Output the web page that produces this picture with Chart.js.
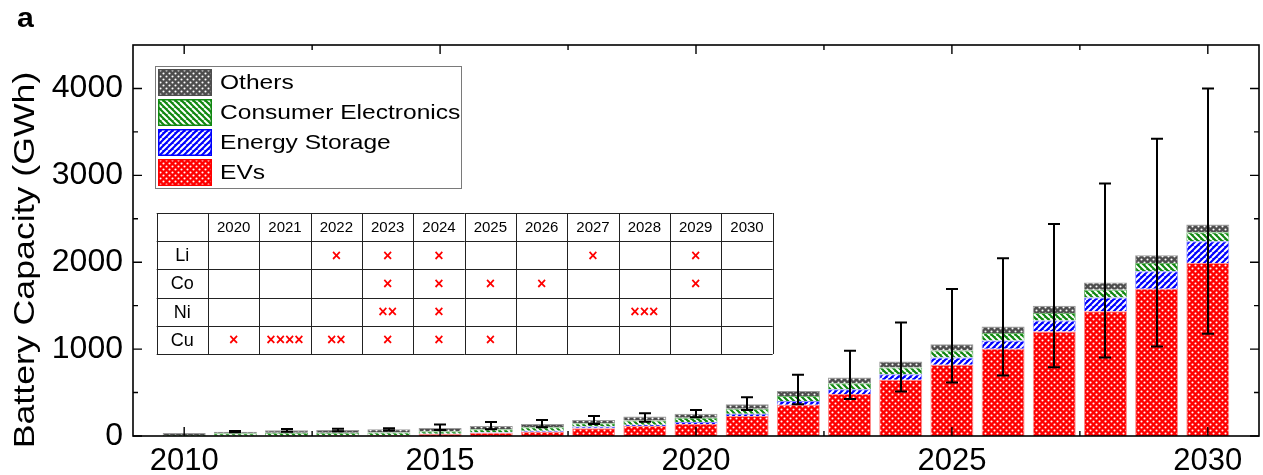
<!DOCTYPE html>
<html>
<head>
<meta charset="utf-8">
<script src="https://cdn.jsdelivr.net/npm/chart.js@4/dist/chart.umd.min.js"></script>
<style>
  html, body { margin: 0; padding: 0; background: #fff; }
  #wrap { width: 1263px; height: 475px; }
</style>
</head>
<body>
<div id="wrap"><canvas id="c" width="1263" height="475"></canvas></div>
<script>
// Yearly battery demand by application (GWh)
const years = [2010, 2011, 2012, 2013, 2014, 2015, 2016, 2017, 2018, 2019, 2020,
               2021, 2022, 2023, 2024, 2025, 2026, 2027, 2028, 2029, 2030];
const evs         = [0, 2, 3, 5, 8, 22, 38, 48, 88, 115, 138, 231, 361, 484, 646, 819, 1003, 1203, 1435, 1695, 1990];
const storage     = [0, 0, 1, 1, 2, 4, 6, 12, 20, 15, 23, 26, 43, 54, 65, 84, 96, 127, 158, 200, 250];
const electronics = [12, 29, 33, 30, 30, 30, 33, 40, 38, 47, 50, 58, 57, 69, 77, 81, 85, 85, 90, 97, 105];
const others      = [22, 19, 28, 33, 37, 36, 38, 38, 39, 46, 46, 51, 58, 66, 69, 73, 77, 84, 85, 88, 90];
// uncertainty range of total demand
const errLow  = [null, 42, 48, 55, 62, 68, 77, 100, 138, 165, 216, 300, 365, 427, 511, 615, 696, 792, 903, 1030, 1176];
const errHigh = [null, 58, 80, 84, 90, 131, 161, 185, 231, 262, 300, 446, 704, 980, 1307, 1692, 2045, 2441, 2907, 3422, 4000];

const xTicks = [2010, 2015, 2020, 2025, 2030];
const yTicks = [0, 1000, 2000, 3000, 4000];

// supply-risk table: number of marks per year
const tableYears = ['2020', '2021', '2022', '2023', '2024', '2025', '2026', '2027', '2028', '2029', '2030'];
const tableRows = ['Li', 'Co', 'Ni', 'Cu'];
const liMarks = [0, 0, 1, 1, 1, 0, 0, 1, 0, 1, 0];
const coMarks = [0, 0, 0, 1, 1, 1, 1, 0, 0, 1, 0];
const niMarks = [0, 0, 0, 2, 1, 0, 0, 0, 3, 0, 0];
const cuMarks = [1, 4, 2, 1, 1, 1, 0, 0, 0, 0, 0];
const tableMarks = [liMarks, coMarks, niMarks, cuMarks];

const FONT = '"Liberation Sans", Arial, Helvetica, sans-serif';

// ---- fill patterns ----
function dotPattern(bg) {
  const t = document.createElement('canvas');
  t.width = 6; t.height = 6;
  const g = t.getContext('2d');
  g.fillStyle = bg; g.fillRect(0, 0, 6, 6);
  g.fillStyle = '#ffffff';
  [[1.5, 1.5], [4.5, 4.5]].forEach(([cx, cy]) => {
    g.beginPath(); g.arc(cx, cy, 1.05, 0, Math.PI * 2); g.fill();
  });
  return g.createPattern(t, 'repeat');
}
function stripePattern(bg, down) {
  const s = 6;
  const t = document.createElement('canvas');
  t.width = s; t.height = s;
  const g = t.getContext('2d');
  g.fillStyle = bg; g.fillRect(0, 0, s, s);
  g.strokeStyle = '#ffffff'; g.lineWidth = 2.0;
  g.beginPath();
  for (let k = -1; k <= 1; k++) {
    if (down) { g.moveTo(k * s, 0); g.lineTo(k * s + s, s); }
    else { g.moveTo(k * s, s); g.lineTo(k * s + s, 0); }
  }
  g.stroke();
  return g.createPattern(t, 'repeat');
}

const fillEV = dotPattern('#ff0000');
const fillES = stripePattern('#0000ff', false);
const fillCE = stripePattern('#118811', true);
const fillOT = dotPattern('#4d4d4d');

const series = [
  { label: 'EVs', values: evs, fill: fillEV, edge: '#ff8c8c', line: '#ff0000' },
  { label: 'Energy Storage', values: storage, fill: fillES, edge: '#8c8cff', line: '#0000ff' },
  { label: 'Consumer Electronics', values: electronics, fill: fillCE, edge: '#6fb56f', line: '#118811' },
  { label: 'Others', values: others, fill: fillOT, edge: '#9a9a9a', line: '#4d4d4d' }
];

const datasets = series.map(s => ({
  label: s.label,
  data: years.map((yr, i) => ({ x: yr, y: s.values[i] })),
  backgroundColor: s.fill,
  borderColor: s.edge,
  borderWidth: 1,
  barPercentage: 1,
  categoryPercentage: 0.84
}));

// text drawn a little wider than the font's natural proportions
function wideText(ctx, text, x, y, widen) {
  ctx.save();
  ctx.translate(x, y);
  ctx.scale(widen, 1);
  ctx.fillText(text, 0, 0);
  ctx.restore();
}

// ---- plugins ----
const errorBars = {
  id: 'errorBars',
  afterDatasetsDraw(chart) {
    const { ctx, scales: { x, y } } = chart;
    ctx.save();
    ctx.strokeStyle = '#000';
    ctx.lineWidth = 2;
    years.forEach((yr, i) => {
      if (errLow[i] == null) return;
      const px = Math.round(x.getPixelForValue(yr));
      const lo = y.getPixelForValue(errLow[i]);
      const hi = y.getPixelForValue(errHigh[i]);
      ctx.beginPath();
      ctx.moveTo(px, lo); ctx.lineTo(px, hi);
      ctx.moveTo(px - 6, lo); ctx.lineTo(px + 6, lo);
      ctx.moveTo(px - 6, hi); ctx.lineTo(px + 6, hi);
      ctx.stroke();
    });
    ctx.restore();
  }
};

const frame = {
  id: 'frame',
  afterDatasetsDraw(chart) {
    const { ctx, chartArea: a, scales: { x, y } } = chart;
    ctx.save();
    ctx.strokeStyle = '#000';
    ctx.lineWidth = 1.6;
    ctx.strokeRect(a.left, a.top, a.right - a.left, a.bottom - a.top);
    ctx.lineWidth = 1.4;
    ctx.beginPath();
    const yMinor = yTicks.map(v => v + 500).filter(v => v < y.max);
    const xMinor = xTicks.map(v => v + 2.5).filter(v => v < x.max);
    yTicks.forEach(v => {
      const py = y.getPixelForValue(v);
      ctx.moveTo(a.left, py); ctx.lineTo(a.left + 9, py);
      ctx.moveTo(a.right, py); ctx.lineTo(a.right - 9, py);
    });
    yMinor.forEach(v => {
      const py = y.getPixelForValue(v);
      ctx.moveTo(a.left, py); ctx.lineTo(a.left + 5, py);
      ctx.moveTo(a.right, py); ctx.lineTo(a.right - 5, py);
    });
    xTicks.forEach(v => {
      const px = x.getPixelForValue(v);
      ctx.moveTo(px, a.bottom); ctx.lineTo(px, a.bottom - 9);
      ctx.moveTo(px, a.top); ctx.lineTo(px, a.top + 9);
    });
    xMinor.forEach(v => {
      const px = x.getPixelForValue(v);
      ctx.moveTo(px, a.bottom); ctx.lineTo(px, a.bottom - 5);
      ctx.moveTo(px, a.top); ctx.lineTo(px, a.top + 5);
    });
    ctx.stroke();
    ctx.restore();
  }
};

const legendBox = {
  id: 'legendBox',
  afterDraw(chart) {
    const { ctx, chartArea: a } = chart;
    const bx = a.left + 22, by = a.top + 21, bw = 306, bh = 122;
    ctx.save();
    ctx.strokeStyle = '#7a7a7a';
    ctx.lineWidth = 1;
    ctx.strokeRect(bx + 0.5, by + 0.5, bw, bh);
    const order = series.slice().reverse();
    ctx.font = '21px ' + FONT;
    ctx.textBaseline = 'middle';
    order.forEach((s, i) => {
      const sx = bx + 3, sy = by + 3 + i * 30, sw = 54, sh = 27;
      ctx.fillStyle = s.fill;
      ctx.fillRect(sx, sy, sw, sh);
      ctx.strokeStyle = s.line;
      ctx.lineWidth = 1.5;
      ctx.strokeRect(sx + 0.75, sy + 0.75, sw - 1.5, sh - 1.5);
      ctx.fillStyle = '#000';
      wideText(ctx, s.label, bx + 65, sy + sh / 2 + 1, 1.17);
    });
    ctx.restore();
  }
};

const riskTable = {
  id: 'riskTable',
  afterDraw(chart) {
    const { ctx, chartArea: a } = chart;
    const tx = a.left + 23.7, ty = a.top + 168;
    const cw = 51.33, rh = 28.2;
    const nCols = tableYears.length + 1, nRows = tableRows.length + 1;
    ctx.save();
    ctx.strokeStyle = '#222';
    ctx.lineWidth = 1;
    ctx.beginPath();
    for (let r = 0; r <= nRows; r++) {
      const py = Math.round(ty + r * rh) + 0.5;
      ctx.moveTo(tx, py); ctx.lineTo(tx + nCols * cw, py);
    }
    for (let c = 0; c <= nCols; c++) {
      const px = Math.round(tx + c * cw) + 0.5;
      ctx.moveTo(px, ty); ctx.lineTo(px, ty + nRows * rh);
    }
    ctx.stroke();
    ctx.textAlign = 'center';
    ctx.textBaseline = 'middle';
    ctx.fillStyle = '#000';
    ctx.font = '15px ' + FONT;
    tableYears.forEach((t, c) => ctx.fillText(t, tx + (c + 1.5) * cw, ty + rh / 2 + 1));
    ctx.font = '18px ' + FONT;
    tableRows.forEach((t, r) => ctx.fillText(t, tx + 0.5 * cw, ty + (r + 1.5) * rh + 1));
    ctx.fillStyle = '#ff0000';
    ctx.font = 'bold 16px ' + FONT;
    tableMarks.forEach((row, r) => {
      row.forEach((n, c) => {
        if (n > 0) ctx.fillText('\u00d7'.repeat(n), tx + (c + 1.5) * cw, ty + (r + 1.5) * rh + 1);
      });
    });
    ctx.restore();
  }
};

const captions = {
  id: 'captions',
  afterDraw(chart) {
    const { ctx } = chart;
    ctx.save();
    ctx.fillStyle = '#000';
    ctx.font = 'bold 27px ' + FONT;
    ctx.textBaseline = 'alphabetic';
    wideText(ctx, 'a', 17, 27, 1.12);
    ctx.translate(26, 260);
    ctx.rotate(-Math.PI / 2);
    ctx.font = '29px ' + FONT;
    ctx.textAlign = 'center';
    ctx.textBaseline = 'middle';
    wideText(ctx, 'Battery Capacity (GWh)', 0, 0, 1.23);
    ctx.restore();
  }
};

new Chart(document.getElementById('c'), {
  type: 'bar',
  data: { datasets },
  options: {
    responsive: false,
    animation: false,
    devicePixelRatio: 1,
    layout: { padding: { top: 45, right: 4, left: 0, bottom: 0 } },
    plugins: { legend: { display: false }, tooltip: { enabled: false } },
    scales: {
      x: {
        type: 'linear',
        min: 2009, max: 2031,
        offset: false,
        stacked: true,
        grid: { display: false, drawTicks: false, offset: false },
        border: { display: false },
        afterBuildTicks: s => { s.ticks = xTicks.map(v => ({ value: v })); },
        afterFit: s => { s.height = 39; },
        ticks: { font: { size: 31, family: FONT }, color: '#000', padding: 7, maxRotation: 0, autoSkip: false,
                 callback: v => String(v) }
      },
      y: {
        min: 0, max: 4500,
        stacked: true,
        grid: { display: false, drawTicks: false },
        border: { display: false },
        afterBuildTicks: s => { s.ticks = yTicks.map(v => ({ value: v })); },
        afterFit: s => { s.width = 133; },
        ticks: { font: { size: 32, family: FONT }, color: '#000', padding: 10, callback: v => String(v) }
      }
    }
  },
  plugins: [errorBars, frame, legendBox, riskTable, captions]
});
</script>
</body>
</html>
